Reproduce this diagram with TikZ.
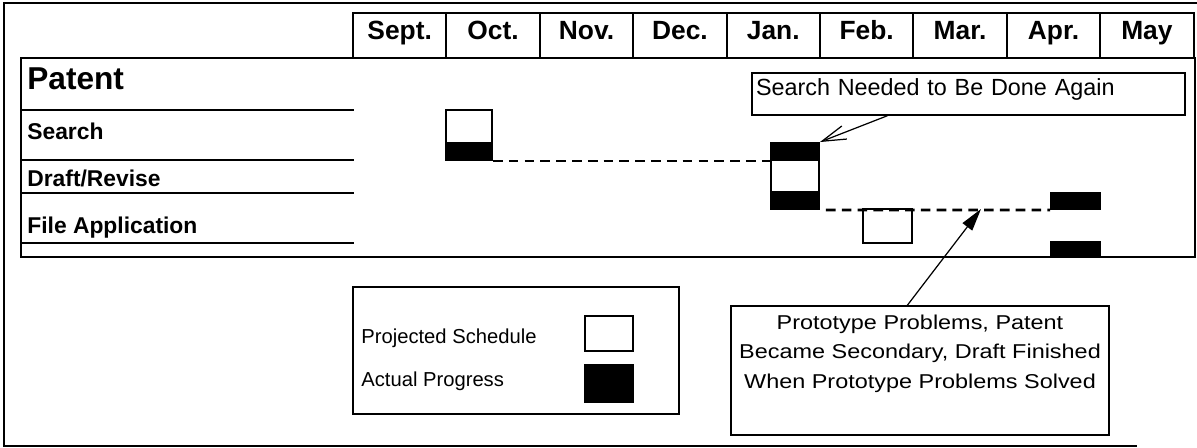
\documentclass[tikz,border=0pt]{standalone}
\usepackage{fontspec}
\setmainfont{Liberation Sans}
\newfontfamily\widesans[FakeStretch=1.17]{Liberation Sans}
\usetikzlibrary{arrows.meta}

\tikzset{
  boxline/.style={line width=1.1pt},
  month/.style={draw, boxline, minimum width=1.868cm, minimum height=0.9cm,
    inner sep=0, text height=10.8pt, text depth=5.7pt,
    font=\bfseries\fontsize{15}{18}\selectfont},
  rowlabel/.style={anchor=base west, inner sep=0,
    font=\bfseries\fontsize{13}{15}\selectfont},
  rowline/.style={line width=0.9pt},
  planned/.style={draw, boxline, fill=white, inner sep=0},
  actual/.style={draw, boxline, fill=black, inner sep=0},
  slip/.style={line width=1.5pt, dash pattern=on 5.5pt off 3.5pt},
  note/.style={draw, line width=0.8pt, inner sep=0},
  legendtext/.style={anchor=base west, inner sep=0,
    font=\fontsize{11.5}{14}\selectfont}
}

\begin{document}
\begin{tikzpicture}[x=0.02cm,y=-0.02cm]
\useasboundingbox (0,0) rectangle (1197,448);
% ---------- outer frame ----------
\draw[boxline] (1197,3) -- (4,3) -- (4,446) -- (1137,446);
% ---------- months ----------
\foreach \m [count=\i] in {Sept.,Oct.,Nov.,Dec.,Jan.,Feb.,Mar.,Apr.,May}
  \node[month] (m\i) at ({306.3+93.4*\i},35.5) {\m};
% ---------- patent rows ----------
\draw[boxline] (21,58) rectangle (1195,257);
\node[rowlabel, font=\bfseries\fontsize{18}{21}\selectfont] (patent) at (27,90) {Patent};
\node[rowlabel] (search) at (27,140) {Search};
\node[rowlabel] (draft) at (27,187) {Draft/Revise};
\node[rowlabel] (file) at (27,234) {File Application};
\foreach \y in {110,160,193,243}
  \draw[rowline] (21,\y) -- (354,\y);
% ---------- bars ----------
\node[planned, minimum width=0.92cm, minimum height=1cm] (octplan) at (469,135) {};
\node[actual, minimum width=0.92cm, minimum height=0.34cm] (octact) at (469,151.5) {};
\node[planned, minimum width=0.96cm, minimum height=1.32cm] (janplan) at (795,176) {};
\node[actual, minimum width=0.96cm, minimum height=0.34cm] (janA) at (795,151.5) {};
\node[actual, minimum width=0.96cm, minimum height=0.34cm] (janB) at (795,200.5) {};
\node[planned, minimum width=0.98cm, minimum height=0.68cm] (febplan) at (887.5,226) {};
\node[actual, minimum width=0.98cm, minimum height=0.32cm] (aprA) at (1075.5,201) {};
\node[actual, minimum width=0.98cm, minimum height=0.30cm] (aprB) at (1075.5,249.5) {};
% slipped schedule
\draw[slip] (octact.south east) -- (janA.south west);
\draw[slip, shorten <=3.4pt] (janplan.south east) -- (aprA.south west);
\coordinate (stall) at (981,209);
% ---------- notes ----------
\node[note, text width=8.5cm, align=left, minimum height=0.84cm, inner xsep=0.08cm,
  text height=9.6pt, text depth=7.9pt, font=\fontsize{13.3}{16}\selectfont]
  (searchnote) at (968.5,94) {Search Needed to Be Done Again};
\draw[-{Straight Barb[length=4.8mm,width=2.8mm]}, line width=0.7pt]
  (searchnote.195) -- (janplan.north east);
\node[note, minimum width=7.56cm, minimum height=2.58cm] (probnote) at (920,370.5) {};
\node[anchor=north, inner sep=0, align=center,
  font=\widesans\fontsize{11.4}{16.7}\selectfont] (probtext) at (920,314.5)
  {Prototype Problems, Patent\\Became Secondary, Draft Finished\\When Prototype Problems Solved};
\draw[-{Triangle[length=4.5mm,width=2.4mm]}, line width=0.7pt]
  (probnote.101) -- (stall);
% ---------- legend ----------
\node[draw, boxline, minimum width=6.52cm, minimum height=2.54cm] (legend) at (516,350.5) {};
\node[legendtext] (plantext) at (361,344) {Projected Schedule};
\node[legendtext] (acttext) at (361,387) {Actual Progress};
\node[planned, minimum width=0.96cm, minimum height=0.7cm] (plankey) at (609,333.5) {};
\node[actual, minimum width=0.96cm, minimum height=0.74cm] (actkey) at (609,383.5) {};
\end{tikzpicture}
\end{document}
